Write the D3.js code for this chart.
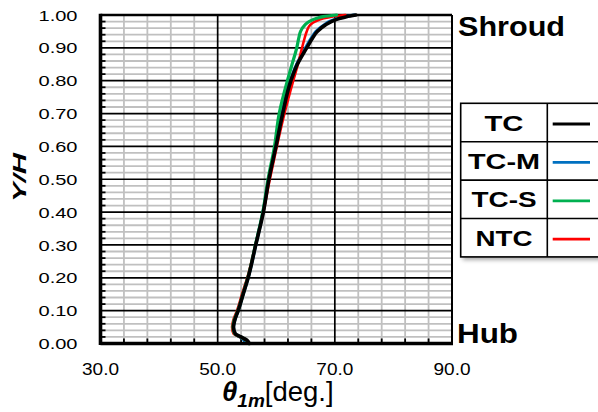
<!DOCTYPE html>
<html>
<head>
<meta charset="utf-8">
<script src="https://cdn.jsdelivr.net/npm/d3@7"></script>
<style>
  html, body { margin: 0; padding: 0; background: #fff; }
  svg { display: block; font-family: Arial, "Liberation Sans", sans-serif; }
</style>
</head>
<body>
<svg id="chart" width="598" height="412"></svg>
<script>
// Spanwise distribution of the mean flow angle, hub (Y/H = 0) to shroud (Y/H = 1)
const spanY = [0, 0.01, 0.02, 0.03, 0.05, 0.07, 0.10, 0.15, 0.20, 0.30, 0.40, 0.50,
               0.60, 0.70, 0.80, 0.85, 0.90, 0.93, 0.95, 0.97, 0.98, 0.99, 0.995, 1.00];
const thetaTC  = [55.4, 55.0, 54.0, 53.0, 52.7, 52.9, 53.5, 54.35, 55.2, 56.5, 57.8, 58.75,
                  59.95, 61.1, 62.5, 63.6, 65.2, 66.2, 67.0, 68.4, 69.4, 70.9, 72.0, 73.6];
const thetaTCM = [54.7, 54.5, 53.8, 52.95, 52.7, 52.9, 53.5, 54.35, 55.2, 56.5, 57.75, 58.7,
                  59.9, 61.0, 62.4, 63.5, 65.0, 66.0, 66.8, 68.2, 69.1, 70.6, 71.7, 73.3];
const thetaTCS = [55.3, 54.9, 53.9, 52.9, 52.6, 52.8, 53.45, 54.3, 55.15, 56.45, 57.7, 58.6,
                  59.7, 60.5, 61.9, 62.7, 63.5, 63.85, 64.15, 64.9, 65.6, 66.9, 68.0, 70.3];
const thetaNTC = [55.2, 54.8, 53.7, 52.7, 52.45, 52.65, 53.3, 54.15, 55.05, 56.45, 57.8, 58.9,
                  60.1, 61.4, 62.9, 63.7, 64.4, 64.85, 65.2, 65.8, 66.6, 68.1, 69.5, 71.8];

const seriesNames  = ["TC", "TC-M", "TC-S", "NTC"];
const seriesColors = ["#000000", "#0070C0", "#00B050", "#FF0000"];
const seriesValues = [thetaTC, thetaTCM, thetaTCS, thetaNTC];

const xTickValues = [30, 50, 70, 90];
const yTickValues = [0, 0.1, 0.2, 0.3, 0.4, 0.5, 0.6, 0.7, 0.8, 0.9, 1.0];

const svg = d3.select("#chart");
const pLeft = 100.5, pRight = 452, pTop = 15, pBottom = 343.5;

const x = d3.scaleLinear().domain([30, 90]).range([pLeft, pRight]);
const y = d3.scaleLinear().domain([0, 1]).range([pBottom, pTop]);

// minor grid (every 4 deg, every 0.02)
const xMinor = d3.range(34, 90, 4).filter(v => (v - 30) % 20 !== 0);
const yMinor = d3.range(1, 50).map(i => i * 0.02).filter((v, i) => (i + 1) % 5 !== 0);

const grid = svg.append("g");
grid.selectAll(".hm").data(yMinor).join("line")
  .attr("x1", pLeft).attr("x2", pRight)
  .attr("y1", d => y(d)).attr("y2", d => y(d))
  .attr("stroke", "#c0c0c0").attr("stroke-width", 1.8);
grid.selectAll(".vm").data(xMinor).join("line")
  .attr("y1", pTop).attr("y2", pBottom)
  .attr("x1", d => x(d)).attr("x2", d => x(d))
  .attr("stroke", "#c0c0c0").attr("stroke-width", 1.8);

// major grid
grid.selectAll(".hM").data(yTickValues.slice(1, -1)).join("line")
  .attr("x1", pLeft).attr("x2", pRight)
  .attr("y1", d => y(d)).attr("y2", d => y(d))
  .attr("stroke", "#000").attr("stroke-width", 1.7);
grid.selectAll(".vM").data([50, 70]).join("line")
  .attr("y1", pTop).attr("y2", pBottom)
  .attr("x1", d => x(d)).attr("x2", d => x(d))
  .attr("stroke", "#000").attr("stroke-width", 1.7);

// minor tick marks on the axes
grid.selectAll(".yt").data(yMinor).join("line")
  .attr("x1", pLeft).attr("x2", pLeft + 5)
  .attr("y1", d => y(d)).attr("y2", d => y(d))
  .attr("stroke", "#000").attr("stroke-width", 1.8);
grid.selectAll(".xt").data(xMinor).join("line")
  .attr("y1", pBottom).attr("y2", pBottom - 5)
  .attr("x1", d => x(d)).attr("x2", d => x(d))
  .attr("stroke", "#000").attr("stroke-width", 1.8);

// frame
svg.append("line").attr("x1", pRight).attr("x2", pRight).attr("y1", pTop).attr("y2", pBottom)
  .attr("stroke", "#000").attr("stroke-width", 2);
svg.append("line").attr("x1", pLeft).attr("x2", pRight).attr("y1", pTop).attr("y2", pTop)
  .attr("stroke", "#000").attr("stroke-width", 2.6);

// curves
const line = d3.line()
  .x(d => x(d[1]))
  .y(d => y(d[0]))
  .curve(d3.curveMonotoneY);
const drawOrder = [1, 3, 2, 0];
const widths = [3.6, 3.2, 3.2, 2.6];
drawOrder.forEach(i => {
  svg.append("path")
    .datum(spanY.map((v, k) => [v, seriesValues[i][k]]))
    .attr("d", line)
    .attr("fill", "none")
    .attr("stroke", seriesColors[i])
    .attr("stroke-width", widths[i])
    .attr("stroke-linejoin", "round")
    .attr("stroke-linecap", "round");
});

// axes lines (thick)
svg.append("line").attr("x1", pLeft).attr("x2", pLeft).attr("y1", pTop - 1.3).attr("y2", pBottom + 1.5)
  .attr("stroke", "#000").attr("stroke-width", 3.6);
svg.append("line").attr("x1", pLeft).attr("x2", pRight + 1).attr("y1", pBottom).attr("y2", pBottom)
  .attr("stroke", "#000").attr("stroke-width", 3.4);

// tick labels
svg.append("g").selectAll("text").data(yTickValues).join("text")
  .attr("x", 38.5).attr("y", d => y(d) + 5.6)
  .attr("font-size", 15.5)
  .attr("textLength", 39).attr("lengthAdjust", "spacingAndGlyphs")
  .text(d => d.toFixed(2));
svg.append("g").selectAll("text").data(xTickValues).join("text")
  .attr("x", d => x(d) - 18.5).attr("y", 375)
  .attr("font-size", 16)
  .attr("textLength", 37).attr("lengthAdjust", "spacingAndGlyphs")
  .text(d => d.toFixed(1));

// axis titles
svg.append("text")
  .attr("transform", "translate(25.5,177.5) rotate(-90)")
  .attr("text-anchor", "middle")
  .attr("font-size", 18).attr("font-weight", "bold").attr("font-style", "italic")
  .attr("textLength", 49).attr("lengthAdjust", "spacingAndGlyphs")
  .text("Y/H");

const xTitle = svg.append("text").attr("x", 222).attr("y", 401).attr("font-size", 27.5);
xTitle.append("tspan").attr("font-weight", "bold").attr("font-style", "italic").text("θ");
xTitle.append("tspan").attr("font-weight", "bold").attr("font-style", "italic")
  .attr("font-size", 19).attr("dy", 6).text("1m");
xTitle.append("tspan").attr("dy", -6).text("[deg.]");

// span position labels
svg.append("text").attr("x", 458).attr("y", 36)
  .attr("font-size", 28).attr("font-weight", "bold")
  .attr("textLength", 107).attr("lengthAdjust", "spacingAndGlyphs")
  .text("Shroud");
svg.append("text").attr("x", 457).attr("y", 343)
  .attr("font-size", 28).attr("font-weight", "bold")
  .attr("textLength", 61).attr("lengthAdjust", "spacingAndGlyphs")
  .text("Hub");

// legend table
const defs = svg.append("defs");
const f = defs.append("filter").attr("id", "shadow").attr("x", "-10%").attr("y", "-10%")
  .attr("width", "130%").attr("height", "130%");
f.append("feDropShadow").attr("dx", 2).attr("dy", 3).attr("stdDeviation", 2)
  .attr("flood-color", "#000").attr("flood-opacity", 0.35);

const lgX = 460.7, lgDiv = 547.3, lgR = 640, lgTop = 103.3, rowH = 38.4;
const lg = svg.append("g");
lg.append("rect").attr("x", lgX).attr("y", lgTop).attr("width", lgR - lgX)
  .attr("height", rowH * 4).attr("fill", "#fff").attr("filter", "url(#shadow)");
lg.append("rect").attr("x", lgX).attr("y", lgTop).attr("width", lgR - lgX)
  .attr("height", rowH * 4).attr("fill", "none").attr("stroke", "#000").attr("stroke-width", 1.6);
lg.selectAll(".rowline").data([1, 2, 3]).join("line")
  .attr("x1", lgX).attr("x2", lgR)
  .attr("y1", d => lgTop + d * rowH).attr("y2", d => lgTop + d * rowH)
  .attr("stroke", "#000").attr("stroke-width", 1.6);
lg.append("line").attr("x1", lgDiv).attr("x2", lgDiv).attr("y1", lgTop).attr("y2", lgTop + 4 * rowH)
  .attr("stroke", "#000").attr("stroke-width", 1.6);

const nameWidths = [39, 72, 65, 57];
seriesNames.forEach((name, i) => {
  const cy = lgTop + (i + 0.5) * rowH;
  lg.append("text").attr("x", (lgX + lgDiv) / 2 - nameWidths[i] / 2).attr("y", cy + 8)
    .attr("font-size", 22).attr("font-weight", "bold")
    .attr("textLength", nameWidths[i]).attr("lengthAdjust", "spacingAndGlyphs")
    .text(name);
  lg.append("line").attr("x1", 552.7).attr("x2", 590)
    .attr("y1", cy + 1.5).attr("y2", cy + 1.5)
    .attr("stroke", seriesColors[i]).attr("stroke-width", 2.8);
});
</script>
</body>
</html>
